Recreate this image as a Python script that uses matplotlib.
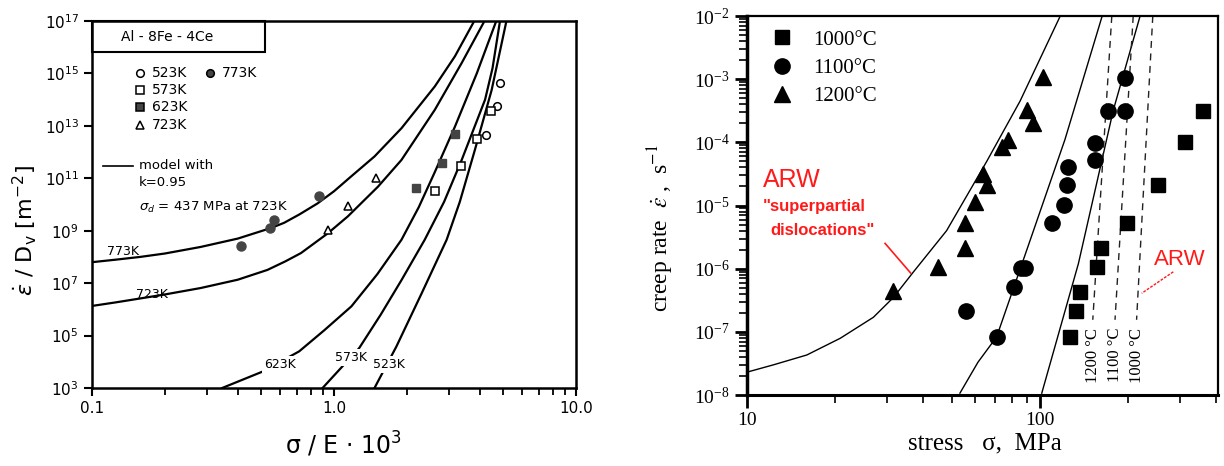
import numpy as np
import matplotlib.pyplot as plt
import matplotlib.ticker as mticker
from matplotlib.patches import Rectangle

# ---------- left panel: Al-8Fe-4Ce, normalised creep rate vs sigma/E
s523 = [4.87, 4.70, 4.25]
e523 = [4.3e14, 5.8e13, 4.3e12]
s573 = [4.44, 3.91, 3.36, 2.61]
e573 = [3.7e13, 3.1e12, 3.0e11, 3.2e10]
s623 = [3.17, 2.79, 2.19]
e623 = [4.7e12, 3.8e11, 4.1e10]
s723 = [1.49, 1.14, 0.946]
e723 = [1.07e11, 9.0e9, 1.1e9]
s773 = [0.869, 0.565, 0.545, 0.411]
e773 = [2.1e10, 2.6e9, 1.3e9, 2.5e8]

# model curves
m773_s = [0.1, 0.126, 0.158, 0.2, 0.281, 0.4, 0.548, 0.622, 0.72, 0.855, 1.0,
          1.18, 1.47, 1.90, 2.61, 3.16, 3.82]
m773_e = [6.3e7, 7.9e7, 1.0e8, 1.35e8, 2.4e8, 5.0e8, 1.26e9, 2.0e9, 4.2e9, 1.1e10,
          3.2e10, 1.2e11, 6.8e11, 8.1e12, 3.2e14, 4.5e15, 1.1e17]
m723_s = [0.1, 0.126, 0.158, 0.2, 0.281, 0.4, 0.531, 0.63, 0.730, 0.942, 1.14,
          1.52, 1.90, 2.61, 3.37, 4.21]
m723_e = [1.35e6, 1.86e6, 2.6e6, 3.7e6, 6.5e6, 1.35e7, 3.2e7, 6.8e7, 1.4e8, 7.9e8,
          3.5e9, 4.8e10, 5.0e11, 4.1e13, 2.5e15, 1.1e17]
m623_s = [0.345, 0.506, 0.718, 0.912, 1.18, 1.51, 1.90, 2.24, 2.60, 3.16, 3.89, 4.70]
m623_e = [1e3, 4.2e3, 2.5e4, 1.6e5, 1.3e6, 2.2e7, 4.5e8, 7.9e9, 1.6e11, 9.3e12,
          1e15, 1.1e17]
m573_s = [0.897, 1.27, 1.56, 1.90, 2.37, 2.85, 3.37, 4.21, 4.52, 4.86]
m573_e = [1e3, 3.3e4, 6.3e5, 1.3e7, 4.5e8, 1.26e10, 5.0e11, 1.0e14, 1.6e15, 1.1e17]
m523_s = [1.47, 1.81, 2.30, 2.92, 3.31, 3.82, 4.48, 5.17]
m523_e = [1e3, 3.8e4, 4.0e6, 4.5e8, 1.26e10, 1.2e12, 2.3e14, 1.1e17]

# ---------- right panel: creep rate vs stress
sq_s = [126.5, 132.7, 137, 156.3, 161.6, 197.8, 253.5, 312.6, 360.5]
sq_e = [8.3e-8, 2.1e-7, 4.2e-7, 1.07e-6, 2.1e-6, 5.3e-6, 2.1e-5, 1.03e-4, 3.1e-4]
ci_s = [55.9, 71.1, 81.6, 86, 89, 109.6, 120.3, 123.3, 124.9, 154.2, 154.2, 171, 195, 195]
ci_e = [2.1e-7, 8.3e-8, 5.1e-7, 1.03e-6, 1.03e-6, 5.3e-6, 1.02e-5, 2.1e-5, 4.1e-5,
        5.2e-5, 9.6e-5, 3.1e-4, 3.1e-4, 1.03e-3]
tr_s = [31.6, 45.0, 55.5, 55.5, 60, 64, 65.8, 74, 78, 90, 94.4, 102.6]
tr_e = [4.4e-7, 1.07e-6, 2.1e-6, 5.3e-6, 1.15e-5, 3.2e-5, 2.1e-5, 8.5e-5, 1.1e-4,
        3.2e-4, 2.0e-4, 1.1e-3]

lineA_s = [10, 12.3, 16, 20.8, 27, 31.6, 37, 48, 65.8, 85.5, 117]
lineA_e = [2.3e-8, 3.0e-8, 4.3e-8, 7.9e-8, 1.7e-7, 3.5e-7, 8.9e-7, 4.0e-6, 5.0e-5, 4.5e-4, 9.8e-3]
lineB_s = [53.3, 61.4, 71.1, 92.5, 121.6, 163]
lineB_e = [1.07e-8, 3.3e-8, 8.3e-8, 2.8e-6, 1.1e-4, 1.0e-2]
lineC_s = [101.4, 135.2, 177.8, 219.3]
lineC_e = [1.07e-8, 1.2e-6, 3.2e-4, 9.8e-3]

# ARW limits (dashed), top and bottom stress
arw_labels = ['1200 °C', '1100 °C', '1000 °C']
arw_top = [175.8, 208, 242.6]
arw_bot = [151.4, 180.3, 213.6]
arw_ylim = [1e-2, 1.55e-7]

fig = plt.figure(figsize=(12.24, 4.66), dpi=100)

# ================= left =================
ax = fig.add_axes([92/1224, 78/466, 484/1224, 367/466])
ax.set_xscale('log')
ax.set_yscale('log')
ax.set_xlim(0.1, 10)
ax.set_ylim(1e3, 1e17)

for xs, ys in [(m773_s, m773_e), (m723_s, m723_e), (m623_s, m623_e),
               (m573_s, m573_e), (m523_s, m523_e)]:
    ax.plot(xs, ys, color='black', lw=1.6, zorder=2)

ms = 5.5
ax.plot(s523, e523, 'o', mfc='white', mec='black', mew=1.1, ms=ms, zorder=4)
ax.plot(s573, e573, 's', mfc='white', mec='black', mew=1.1, ms=ms, zorder=4)
ax.plot(s623, e623, 's', color='#444444', ms=ms, zorder=4)
ax.plot(s723, e723, '^', mfc='white', mec='black', mew=1.1, ms=ms, zorder=4)
ax.plot(s773, e773, 'o', color='#444444', ms=ms + 1, zorder=4)

lab = dict(fontsize=9, color='black', zorder=3)
ax.text(0.115, 10**7.95, '773K', ha='left', va='bottom', **lab)
ax.text(0.152, 10**6.3, '723K', ha='left', va='bottom', **lab)
wb = dict(facecolor='white', edgecolor='none', pad=1.5)
ax.text(0.60, 10**3.9, '623K', ha='center', va='center', bbox=wb, **lab)
ax.text(1.18, 10**4.15, '573K', ha='center', va='center', bbox=wb, **lab)
ax.text(1.68, 10**3.9, '523K', ha='center', va='center', bbox=wb, **lab)

ax.set_yticks([10.0**k for k in range(3, 18, 2)])
ax.yaxis.set_minor_locator(mticker.NullLocator())
ax.set_xticks([0.1, 1, 10], ['0.1', '1.0', '10.0'])
ax.tick_params(which='both', direction='out', labelsize=11, width=1.5,
               top=False, right=False)
ax.tick_params(which='major', length=6)
ax.tick_params(which='minor', length=5, width=1.3)
for sp in ax.spines.values():
    sp.set_linewidth(1.8)

# legend box and entries
ax.add_patch(Rectangle((0, 0.916), 0.357, 0.084, transform=ax.transAxes,
                       fill=False, lw=1.5, ec='black', clip_on=False))
ax.text(0.155, 0.957, 'Al - 8Fe - 4Ce', transform=ax.transAxes,
        ha='center', va='center', fontsize=10)
leg_items = [('o', 'white', '523K', 0.099, 0.858),
             ('o', '#444444', '773K', 0.244, 0.858),
             ('s', 'white', '573K', 0.099, 0.812),
             ('s', '#444444', '623K', 0.099, 0.766),
             ('^', 'white', '723K', 0.099, 0.717)]
for mk, fc, txt, fx, fy in leg_items:
    ax.plot([fx], [fy], mk, mfc=fc, mec='black', mew=1.1, ms=ms,
            transform=ax.transAxes, clip_on=False)
    ax.text(fx + 0.025, fy, txt, transform=ax.transAxes, ha='left',
            va='center', fontsize=10)
ax.plot([0.023, 0.085], [0.605, 0.605], color='black', lw=1.2,
        transform=ax.transAxes)
ax.text(0.097, 0.605, 'model with', transform=ax.transAxes, va='center', fontsize=9.5)
ax.text(0.097, 0.559, 'k=0.95', transform=ax.transAxes, va='center', fontsize=9.5)
ax.text(0.097, 0.493, r'$\sigma_d$ = 437 MPa at 723K', transform=ax.transAxes,
        va='center', fontsize=9.5, math_fontfamily='dejavusans')

ax.set_ylabel(r'$\dot{\varepsilon}$ / D$_\mathrm{v}$ [m$^{-2}$]', fontsize=16,
              math_fontfamily='dejavusans')
ax.yaxis.set_label_coords(-0.11, 0.43)
ax.set_xlabel(r'σ / E · 10$^3$', fontsize=17, math_fontfamily='dejavusans')
ax.xaxis.set_label_coords(0.52, -0.115)

# ================= right =================
serif = 'Liberation Serif'
bx = fig.add_axes([747/1224, 71/466, 471/1224, 379/466])
bx.set_xscale('log')
bx.set_yscale('log')
bx.set_xlim(10, 405)
bx.set_ylim(1e-8, 1e-2)

bx.plot(lineA_s, lineA_e, color='black', lw=1.0)
bx.plot(lineB_s, lineB_e, color='black', lw=1.0)
bx.plot(lineC_s, lineC_e, color='black', lw=1.0)
for t, b, txt in zip(arw_top, arw_bot, arw_labels):
    bx.plot([t, b], arw_ylim, color='#222222', lw=1.0, ls=(0, (5, 4)))
    bx.text(b, 10**-7.37, txt, rotation=90, ha='center', va='center',
            fontsize=12, family=serif)

bx.plot(sq_s, sq_e, 's', color='black', ms=10.5, label='1000°C')
bx.plot(ci_s, ci_e, 'o', color='black', ms=11, label='1100°C')
bx.plot(tr_s, tr_e, '^', color='black', ms=11.5, label='1200°C')
bx.legend(loc='upper left', bbox_to_anchor=(0.03, 0.985), frameon=False,
          prop={'family': serif, 'size': 15}, handlelength=1.2,
          handletextpad=0.9, labelspacing=0.42, borderaxespad=0)

red = '#ff1a1a'
bx.text(11.3, 10**-4.6, 'ARW', color=red, fontsize=18, ha='left', va='center',
        family='Liberation Sans')
bx.text(11.3, 10**-5.02, '"superpartial', color=red, fontsize=12, ha='left',
        va='center', family='Liberation Sans', fontweight='bold')
bx.text(12.0, 10**-5.39, 'dislocations"', color=red, fontsize=12, ha='left',
        va='center', family='Liberation Sans', fontweight='bold')
bx.plot([29.6, 36.2], [10**-5.60, 10**-6.07], color=red, lw=1.2)
bx.text(300, 10**-5.86, 'ARW', color=red, fontsize=16, ha='center', va='center',
        family='Liberation Sans')
bx.plot([285, 222.3], [10**-6.05, 10**-6.39], color=red, lw=1.0, ls=(0, (2, 1)))

bx.set_xticks([10, 100], ['10', '100'])
bx.xaxis.set_minor_formatter(mticker.NullFormatter())
bx.set_yticks([10.0**k for k in range(-8, -1)])
bx.yaxis.set_minor_locator(mticker.LogLocator(base=10, subs=np.arange(2, 10), numticks=10))
bx.yaxis.set_minor_formatter(mticker.NullFormatter())
bx.tick_params(which='both', direction='out', labelsize=14, top=False, right=False,
               labelfontfamily=serif)
bx.tick_params(which='major', length=9, width=2)
bx.tick_params(which='minor', length=6, width=1.2)
bx.spines['left'].set_linewidth(2.5)
bx.spines['bottom'].set_linewidth(2.2)
bx.spines['top'].set_linewidth(1.6)
bx.spines['right'].set_linewidth(1.6)

bx.set_ylabel(r'creep rate  $\dot{\varepsilon}$ ,  s$^{-1}$', fontsize=17,
              family=serif, math_fontfamily='stix')
bx.yaxis.set_label_coords(-0.15, 0.44)
bx.set_xlabel('stress   σ,  MPa', fontsize=18, family=serif)
bx.xaxis.set_label_coords(0.505, -0.1)

fig.savefig('out.png', dpi=100)
